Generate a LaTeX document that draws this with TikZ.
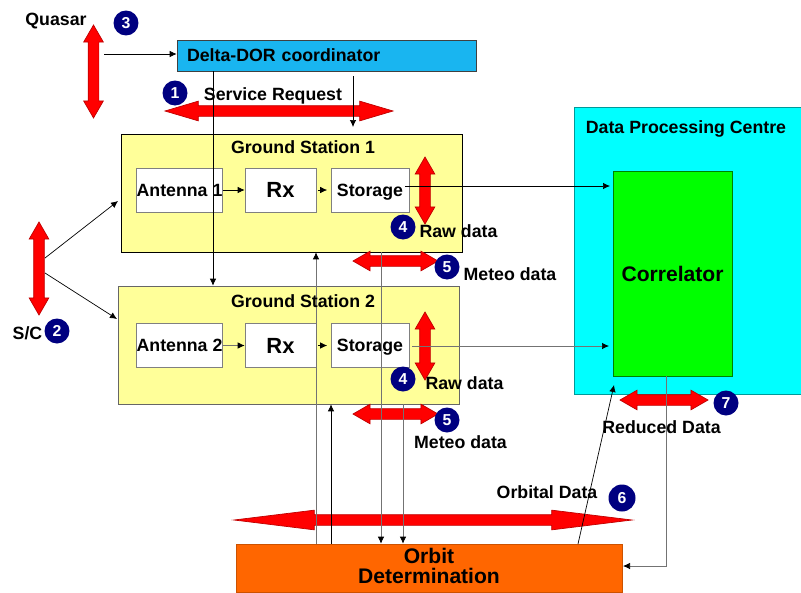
\documentclass[tikz,border=0pt]{standalone}
\usepackage{fontspec}
\setmainfont{Liberation Sans}
\usetikzlibrary{shapes.arrows,arrows.meta}
\definecolor{dorblue}{HTML}{19B5F0}
\definecolor{stationyellow}{HTML}{FFFF99}
\definecolor{orbitorange}{HTML}{FF6600}
\definecolor{badgenavy}{HTML}{000080}
\definecolor{centrecyan}{HTML}{00FFFF}
\definecolor{corrgreen}{HTML}{00FF00}
\begin{document}
\begin{tikzpicture}[x=0.02cm, y=-0.02cm, >={Latex[length=0.14cm,width=0.13cm,black]}, font=\bfseries\fontsize{10.1}{12}\selectfont,
   box_style/.style={draw=#1, thin, inner sep=0pt, text=black},
   flow_style/.style={double arrow, fill=red, draw=red!75!black, thin, inner sep=0.1cm, minimum width=0.38cm, double arrow head extend=0.09cm, double arrow tip angle=60},
   badge_style/.style={circle, fill=badgenavy, text=white, inner sep=0pt, minimum size=0.5cm, font=\bfseries\fontsize{9}{9}\selectfont},
   text_style/.style={inner sep=0pt, text=black, text depth=0pt},
   link_style/.style={draw=black, thin, ->},
   glink_style/.style={draw=black!55, thin, ->}]
	\useasboundingbox (0,0) rectangle (801,592);

	\node [box_style=black!75, fill=dorblue, minimum width=5.98cm, minimum height=0.62cm, inner xsep=0.2cm, text width=5.58cm, align=left] (dor) at (326.5,55.5) {Delta-DOR coordinator};
	\node [box_style=black, fill=stationyellow, minimum width=6.82cm, minimum height=2.36cm] (gs1) at (291.5,193) {};
	\node [box_style=black!60, fill=stationyellow, minimum width=6.82cm, minimum height=2.36cm] (gs2) at (288.5,345) {};
	\node [box_style=black!50, fill=white, minimum width=1.7cm, minimum height=0.88cm] (ant1) at (179.5,190) {Antenna 1};
	\node [box_style=black!50, fill=white, minimum width=1.42cm, minimum height=0.88cm, font=\bfseries\fontsize{12.5}{14}\selectfont] (rx1) at (280.5,190) {Rx};
	\node [box_style=black!50, fill=white, minimum width=1.56cm, minimum height=0.88cm, text depth=0pt] (sto1) at (370,190) {Storage};
	\node [box_style=black!50, fill=white, minimum width=1.7cm, minimum height=0.88cm] (ant2) at (179.5,345.5) {Antenna 2};
	\node [box_style=black!50, fill=white, minimum width=1.42cm, minimum height=0.88cm, font=\bfseries\fontsize{12.5}{14}\selectfont] (rx2) at (280.5,345.5) {Rx};
	\node [box_style=black!50, fill=white, minimum width=1.56cm, minimum height=0.88cm, text depth=0pt] (sto2) at (370,345.5) {Storage};
	\node [box_style=centrecyan!60!black, fill=centrecyan, minimum width=4.54cm, minimum height=5.74cm] (dpc) at (687.5,250.5) {};
	\node [box_style=corrgreen!50!black, fill=corrgreen, minimum width=2.38cm, minimum height=4.1cm, font=\bfseries\fontsize{12}{14}\selectfont] (corr) at (672.5,273.5) {Correlator};
	\node [box_style=orbitorange!80!black, fill=orbitorange, minimum width=7.72cm, minimum height=0.96cm, align=center, text depth=0.08cm, font=\bfseries\fontsize{12}{11.5}\selectfont] (orbit) at (429,568) {Orbit\\Determination};

	% red flows: name/x/y/length/angle
	\foreach \name/\x/\y/\len/\rot in {
		fquasar/93.5/71.5/1.86/90,
		fsc/39/268.5/1.86/90,
		fraw1/425/190.5/1.34/90,
		fraw2/425/346/1.36/90,
		fmeteo1/395.5/261/1.7/0,
		fmeteo2/395.5/414/1.7/0,
		freduced/664/400/1.76/0}
	  \node [flow_style, minimum height=\len cm, rotate=\rot] (\name) at (\x,\y) {};
	\node [flow_style, minimum height=4.56cm, double arrow tip angle=33] (fservice) at (279,111) {};
	\node [flow_style, minimum height=7.96cm, double arrow tip angle=14] (forbital) at (433,520) {};

	\coordinate (c213) at (213,0);
	\coordinate (c316) at (316,0);
	\coordinate (c331) at (331,0);
	\coordinate (c381) at (381,0);
	\coordinate (c403) at (403,0);
	\coordinate (c666) at (666,0);
	\coordinate (qstart) at (104,54);
	\coordinate (srvstart) at (353,76);
	\coordinate (srvend) at (353,127);
	\coordinate (scstart1) at (45,258);
	\coordinate (scend1) at (118,201);
	\coordinate (scstart2) at (45,273);
	\coordinate (scend2) at (117,319);
	\coordinate (out1) at (405,186);
	\coordinate (in1) at (610,186);
	\coordinate (out2) at (412,346);
	\coordinate (in2) at (609,346);
	\coordinate (orbout) at (578,544);
	\coordinate (corrin) at (614,385);
	\coordinate (orbin) at (623,566);

	\foreach \from/\to in {
		qstart/qstart -| dor.west,
		c213 |- dor.south/c213 |- gs2.north,
		srvstart/srvend,
		scstart1/scend1,
		scstart2/scend2,
		ant1/rx1,
		out1/in1,
		c331 |- orbit.north/c331 |- gs2.south,
		orbout/corrin}
	  \draw [link_style] (\from) -- (\to);

	\foreach \from/\to in {
		out2/in2,
		ant2/rx2,
		c316 |- orbit.north/c316 |- gs1.south,
		c381 |- gs1.south/c381 |- orbit.north,
		c403 |- gs2.south/c403 |- orbit.north}
	  \draw [glink_style] (\from) -- (\to);

	\draw [link_style, shorten >=2pt, shorten <=1pt] (rx1) -- (sto1);
	\draw [link_style, shorten >=2pt, shorten <=1pt] (rx2) -- (sto2);
	\draw [glink_style] (c666 |- corr.south) |- (orbin);

	\node [badge_style] (b1) at (175,93) {1};
	\node [badge_style] (b2) at (57,331) {2};
	\node [badge_style] (b3) at (126,23) {3};
	\node [badge_style] (b4a) at (403,227) {4};
	\node [badge_style] (b4b) at (403,379) {4};
	\node [badge_style] (b5a) at (447,267) {5};
	\node [badge_style] (b5b) at (447,420) {5};
	\node [badge_style, minimum size=0.54cm] (b6) at (622,498) {6};
	\node [badge_style] (b7) at (726,403) {7};

	\node [text_style] (tquasar) at (56,19) {Quasar};
	\node [text_style] (tservice) at (273,94) {Service Request};
	\node [text_style] (ttitle1) at (303,147) {Ground Station 1};
	\node [text_style] (ttitle2) at (303,301) {Ground Station 2};
	\node [text_style] (tsc) at (27.5,333) {S/C};
	\node [text_style] (traw1) at (458.5,231) {Raw data};
	\node [text_style] (traw2) at (464.5,383) {Raw data};
	\node [text_style] (tmeteo1) at (510,274) {Meteo data};
	\node [text_style] (tmeteo2) at (460.5,442) {Meteo data};
	\node [text_style] (tcentre) at (686,127) {Data Processing Centre};
	\node [text_style] (treduced) at (661.5,427) {Reduced Data};
	\node [text_style] (torbital) at (547,492) {Orbital Data};

	\end{tikzpicture}
\end{document}
